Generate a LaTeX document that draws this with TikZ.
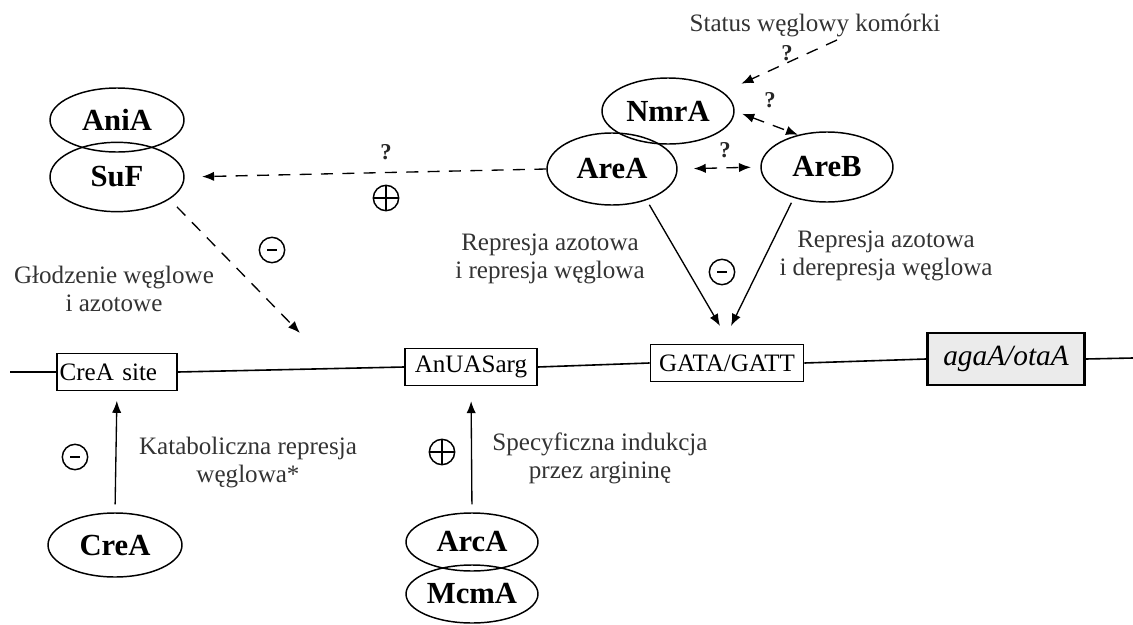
\documentclass[tikz,border=0pt]{standalone}
\usepackage{fontspec}
\setmainfont{Liberation Serif}
\usetikzlibrary{arrows.meta,shapes.geometric}
\newcommand\myprotfont{\fontsize{23}{25}\selectfont\bfseries}
\newcommand\mytxtfont{\fontsize{18.8}{21}\selectfont}
\newcommand\mysitefont{\fontsize{18.8}{20}\selectfont}
\newcommand\mygenefont{\fontsize{22}{24}\selectfont\itshape}
\tikzset{
  prot/.style={ellipse, draw, line width=1.1pt, font=\myprotfont, inner sep=0pt},
  txt/.style={align=center, font=\mytxtfont, text=black!80, inner sep=0pt},
  site/.style={draw, rectangle, line width=1.2pt, font=\mysitefont, inner ysep=0pt, inner xsep=2pt, minimum height=28pt},
  arr/.style={-{Latex[length=9pt,width=7pt]}, line width=1pt},
  darr/.style={arr, dash pattern=on 9pt off 7pt},
  dbl/.style={{Latex[length=9pt,width=7pt]}-{Latex[length=9pt,width=7pt]}, line width=1pt, dash pattern=on 9pt off 7pt},
  signc/.style={circle, draw, minimum size=19pt, inner sep=0pt, line width=1.1pt},
  plussign/.style={signc, path picture={\draw[line width=1pt] (path picture bounding box.north) -- (path picture bounding box.south) (path picture bounding box.west) -- (path picture bounding box.east);}},
  minussign/.style={signc, path picture={\draw[line width=2.2pt] ([xshift=-3.5pt]path picture bounding box.center) -- ([xshift=3.5pt]path picture bounding box.center);}},
  qm/.style={font=\fontsize{17}{18}\selectfont\bfseries, text=black!85, inner sep=0pt},
  dna/.style={line width=1.2pt}
}
\begin{document}
\begin{tikzpicture}[x=0.75pt,y=-0.75pt]
\useasboundingbox (0,0) rectangle (1133,625);

% proteins
\node[prot, minimum width=100.5pt, minimum height=48pt] (ania) at (117,120) {AniA};
\node[prot, minimum width=100.5pt, minimum height=52pt] (suf) at (117,177) {SuF};
\node[prot, minimum width=99pt, minimum height=49.5pt] (nmra) at (668,111) {NmrA};
\node[prot, minimum width=97.5pt, minimum height=54pt] (area) at (612,169) {AreA};
\node[prot, minimum width=99pt, minimum height=52.5pt] (areb) at (827,167) {AreB};
\node[prot, minimum width=100.5pt, minimum height=48pt] (crea) at (115,545) {CreA};
\node[prot, minimum width=99pt, minimum height=43.5pt] (arca) at (472,542) {ArcA};
\node[prot, minimum width=99pt, minimum height=43.5pt] (mcma) at (472,594) {McmA};

% DNA sites
\node[site, text width=86pt, align=left] (creasite) at (117,372) {CreA site};
\node[site, minimum width=99pt] (anuas) at (471,367) {AnUASarg};
\node[site, minimum width=115pt] (gata) at (727,363) {GATA/GATT};
\node[draw, rectangle, line width=1.8pt, fill=black!8, font=\mygenefont, minimum width=118pt, minimum height=39pt, inner sep=0pt] (aga) at (1006,359) {agaA/otaA};

\coordinate (l0) at (10,372);
\coordinate (l1) at (1133,358);
\draw[dna] (l0) -- (creasite.west);
\draw[dna] (creasite.east) -- (anuas.west);
\draw[dna] (anuas.east) -- (gata.west);
\draw[dna] (gata.east) -- (aga.west);
\draw[dna] (aga.east) -- (l1);

% texts
\node[txt] (status) at (815,25) {Status węglowy komórki};
\node[txt] (t1) at (550,259) {Represja azotowa\\i represja węglowa};
\node[txt] (t2) at (886,256) {Represja azotowa\\i derepresja węglowa};
\node[txt] (t3) at (114,289) {Głodzenie węglowe\\i azotowe};
\node[txt] (t4) at (248,463) {Kataboliczna represja\\węglowa*};
\node[txt] (t5) at (600,458) {Specyficzna indukcja\\przez argininę};

% question marks
\node[qm] (q1) at (787,53) {?};
\node[qm] (q2) at (770,100) {?};
\node[qm] (q3) at (725,150) {?};
\node[qm] (q4) at (386,152) {?};

% signs
\node[plussign] (p1) at (386,198) {};
\node[minussign] (n1) at (272,250) {};
\node[minussign] (n2) at (722,272) {};
\node[minussign] (n3) at (75,457) {};
\node[plussign] (p2) at (442,452) {};

% connectors
\coordinate (s1) at (837,40);
\draw[darr, shorten >=15pt] (s1) -- (nmra.19);
\draw[dbl, shorten <=6pt] (nmra.east) -- (areb.132);
\draw[dbl, shorten <=12pt, shorten >=7pt] (area.east) -- (areb.west);
\draw[darr, shorten >=13pt] (area.west) -- (suf.east);
\coordinate (d1) at (300,333);
\draw[darr, shorten <=8pt] (suf.-23) -- (d1);
\coordinate (g1) at (720,326);
\coordinate (g2) at (731,326);
\draw[arr, shorten <=4pt] (area.-42) -- (g1);
\draw[arr, shorten <=4pt] (areb.-137) -- (g2);
\draw[arr, shorten <=6pt, shorten >=7pt] (crea.north) -- (creasite.south);
\draw[arr, shorten <=6pt, shorten >=11pt] (arca.north) -- (anuas.south);
\end{tikzpicture}
\end{document}
